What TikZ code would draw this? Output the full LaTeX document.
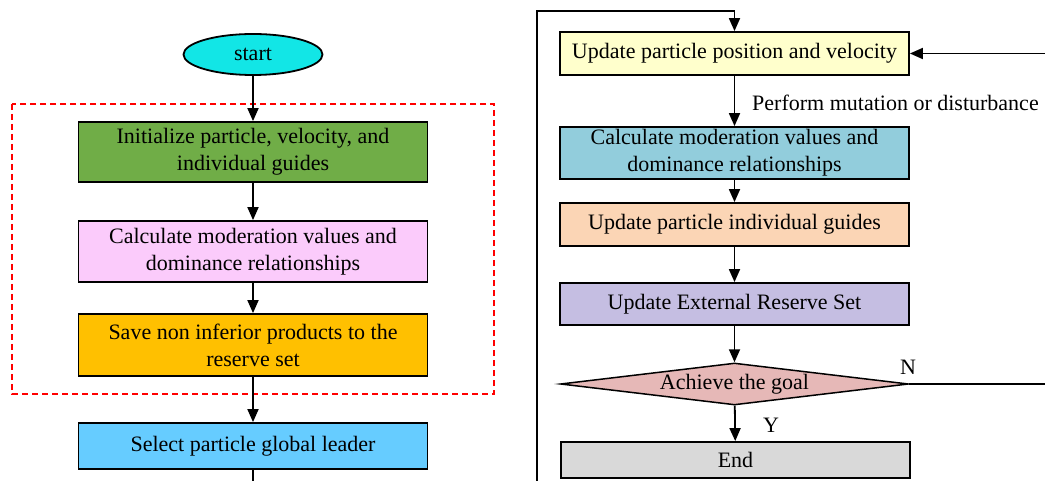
\documentclass[tikz,border=0pt]{standalone}
\usepackage{fontspec}
\setmainfont{Liberation Serif}
\usetikzlibrary{arrows.meta,shapes.geometric}
\definecolor{cstart}{HTML}{12E6E6}
\definecolor{cinit}{HTML}{70AD47}
\definecolor{ccalc}{HTML}{FBCBFB}
\definecolor{csave}{HTML}{FFC000}
\definecolor{csel}{HTML}{66CCFF}
\definecolor{cupd}{HTML}{FFFFCC}
\definecolor{ccalcb}{HTML}{92CDDC}
\definecolor{cguide}{HTML}{FBD5B5}
\definecolor{cres}{HTML}{C5BEE2}
\definecolor{cgoal}{HTML}{E6B8B7}
\definecolor{cend}{HTML}{D9D9D9}
\tikzset{
  every node/.style={font=\fontsize{22}{27}\selectfont, inner sep=0pt},
  stepbox/.style={draw=black, line width=1.8pt, rectangle, align=center, minimum width=349pt},
  flow/.style={line width=1.8pt, -{Triangle[length=13pt,width=11pt]}},
  plain/.style={line width=1.8pt},
}
\begin{document}
\begin{tikzpicture}[x=1pt,y=-1pt]
\useasboundingbox (0,0) rectangle (1045,481);

% initialisation group
\draw[red, dashed, line width=1.5pt, dash pattern=on 6pt off 4pt] (12,104) rectangle (494,394);

% left column
\node[ellipse, draw, line width=1.8pt, fill=cstart, minimum width=139pt, minimum height=41pt] (start) at (253,54.5) {start};
\node[stepbox, fill=cinit, minimum height=60pt] (init) at (253,152) {Initialize particle, velocity, and\\individual guides};
\node[stepbox, fill=ccalc, minimum height=61pt] (calcA) at (253,251.5) {Calculate moderation values and\\dominance relationships};
\node[stepbox, fill=csave, minimum height=62pt] (save) at (253,345) {Save non inferior products to the\\reserve set};
\node[stepbox, fill=csel, minimum height=46pt] (sel) at (253,446) {Select particle global leader};

% right column
\node[stepbox, fill=cupd, minimum height=43pt] (upd) at (734.5,53.5) {Update particle position and velocity};
\node[stepbox, fill=ccalcb, minimum height=52pt] (calcB) at (734.5,153) {Calculate moderation values and\\dominance relationships};
\node[stepbox, fill=cguide, minimum height=43pt] (guide) at (734.5,224.5) {Update particle individual guides};
\node[stepbox, fill=cres, minimum height=42pt] (res) at (734.5,304) {Update External Reserve Set};
\node[diamond, draw, line width=1.5pt, fill=cgoal, minimum width=348pt, minimum height=42pt, aspect=8.3] (goal) at (734.5,384) {Achieve the goal};
\node[stepbox, fill=cend, minimum height=36pt] (end) at (735.5,460) {End};

% free ends and corners of the loops
\coordinate (leftdown) at (253,483);
\coordinate (loopbot) at (537,483);
\coordinate (looptop) at (537,11);
\coordinate (nright) at (1048,384);
\coordinate (nback) at (1048,53.5);

% connectors
\draw[flow] (start) -- (init);
\draw[flow] (init) -- (calcA);
\draw[flow] (calcA) -- (save);
\draw[flow] (save) -- (sel);
\draw[plain] (sel) -- (leftdown);
\draw[flow] (loopbot) -- (looptop) -| (upd.north);
\draw[flow] (upd) -- (calcB);
\draw[flow] (calcB) -- (guide);
\draw[flow] (guide) -- (res);
\draw[flow] (res) -- (goal);
\draw[flow] (goal) -- (end);
\draw[flow] (goal.east) -- (nright) -- (nback) -- (upd.east);

% labels
\node[anchor=west] (lblmut) at (752,103) {Perform mutation or disturbance};
\node (lbly) at (771,425) {Y};
\node (lbln) at (908,367) {N};
\end{tikzpicture}
\end{document}
